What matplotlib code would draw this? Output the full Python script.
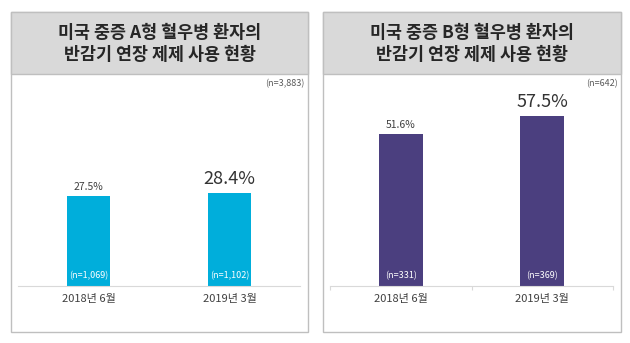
import matplotlib.pyplot as plt
from matplotlib.patches import Rectangle

plt.rcParams['font.family'] = ['Noto Sans CJK KR', 'DejaVu Sans']

W, H = 630, 343

# data
periods = ['2018년 6월', '2019년 3월']
a_titles = '미국 중증 A형 혈우병 환자의\n반감기 연장 제제 사용 현황'
b_titles = '미국 중증 B형 혈우병 환자의\n반감기 연장 제제 사용 현황'
a_values = [27.5, 28.4]
b_values = [51.6, 57.5]
a_counts = ['(n=1,069)', '(n=1,102)']
b_counts = ['(n=331)', '(n=369)']
a_total = '(n=3,883)'
b_total = '(n=642)'

fig = plt.figure(figsize=(W / 100, H / 100), dpi=100)


def fx(x):
    return x / W


def fy(y):
    return 1 - y / H


def panel(x0, x1, title, total, values, counts, color, ymax, ticks):
    # outer box + header band
    fig.patches.append(Rectangle((fx(x0), fy(332)), fx(x1 - x0), (332 - 12) / H,
                                 transform=fig.transFigure, facecolor='white',
                                 edgecolor='#bfbfbf', lw=1.0, zorder=-2))
    fig.patches.append(Rectangle((fx(x0), fy(74)), fx(x1 - x0), (74 - 12) / H,
                                 transform=fig.transFigure, facecolor='#d9d9d9',
                                 edgecolor='#bfbfbf', lw=1.0, zorder=-1))
    fig.text(fx((x0 + x1) / 2), fy(44), title, ha='center', va='center',
             fontsize=12.5, fontweight='bold', color='#262626', linespacing=1.35)
    fig.text(fx(x1 - 3), fy(84), total, ha='right', va='center',
             fontsize=6.5, color='#595959')

    ax0, ax1 = x0 + 7, x1 - 8
    ax = fig.add_axes([fx(ax0), fy(286), fx(ax1 - ax0), (286 - 78) / H])
    xs = list(range(len(values)))
    ax.bar(xs, values, width=0.31, color=color, zorder=2)
    ax.set_xlim(-0.5, len(values) - 0.5)
    ax.set_ylim(0, ymax)
    for s in ['top', 'left', 'right']:
        ax.spines[s].set_visible(False)
    ax.spines['bottom'].set_color('#d9d9d9')
    ax.spines['bottom'].set_linewidth(0.8)
    ax.set_yticks([])
    ax.patch.set_alpha(0)
    if ticks:
        ax.set_xticks([-0.5, 0.5, 1.5], minor=True)
        ax.tick_params(axis='x', which='minor', length=3, color='#d9d9d9', width=0.8)
    ax.set_xticks(xs)
    ax.set_xticklabels(periods, fontsize=8, color='#404040')
    ax.tick_params(axis='x', which='major', length=0, pad=6)

    for i, v in enumerate(values):
        last = i == len(values) - 1
        ax.annotate(f'{v}%', (i, v), xytext=(0, 4 if last else 3),
                    textcoords='offset points', ha='center', va='bottom',
                    fontsize=13 if last else 7.5, color='#333333' if last else '#404040',
                    fontweight='medium' if last else 'normal')
        ax.annotate(counts[i], (i, 0), xytext=(0, 4), textcoords='offset points',
                    ha='center', va='bottom', fontsize=6.5, color='white',
                    fontweight='medium')


panel(11, 308, a_titles, a_total, a_values, a_counts, '#00aedb', 63.6, False)
panel(323, 621, b_titles, b_total, b_values, b_counts, '#4b3f7f', 70.5, True)

fig.savefig('out.png', dpi=100)
